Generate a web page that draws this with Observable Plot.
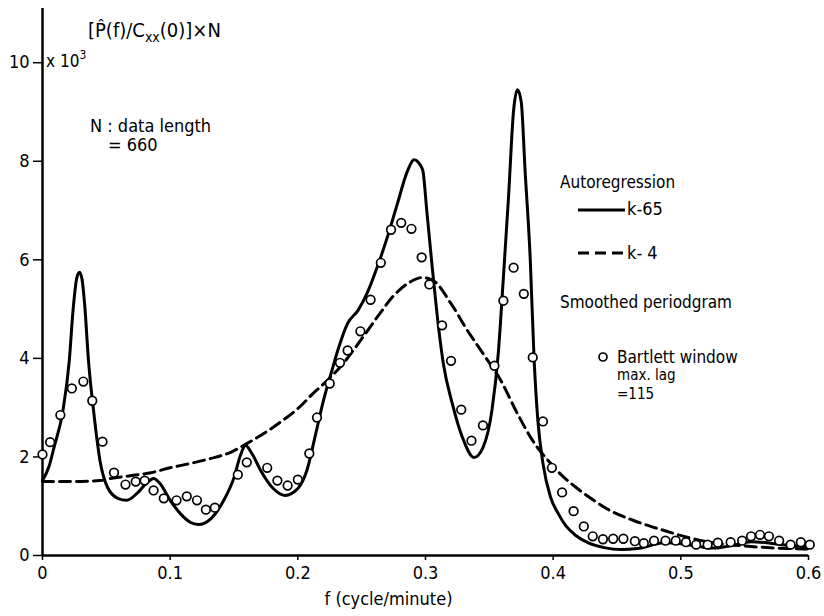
<!DOCTYPE html>
<html>
<head>
<meta charset="utf-8">
<script src="https://cdn.jsdelivr.net/npm/d3@7"></script>
<script src="https://cdn.jsdelivr.net/npm/@observablehq/plot@0.6"></script>
<style>
  html, body { margin: 0; padding: 0; background: #fff; }
  #wrap { position: relative; width: 824px; height: 616px; }
  #wrap svg { display: block; }
  #overlay { position: absolute; left: 0; top: 0; pointer-events: none; }
  svg, svg text { font-family: "DejaVu Sans", sans-serif; font-stretch: condensed; }
</style>
</head>
<body>
<div id="wrap"></div>
<script>
// Autoregression k=65 (solid)
const solidF = [0,0.005,0.009,0.016,0.021,0.024,0.027,0.029,0.031,0.033,0.036,0.040,0.045,0.051,0.059,0.066,0.074,0.082,0.087,0.092,0.100,0.108,0.116,0.122,0.132,0.142,0.150,0.155,0.159,0.164,0.171,0.180,0.190,0.200,0.207,0.214,0.220,0.226,0.232,0.239,0.247,0.254,0.262,0.270,0.278,0.286,0.291,0.296,0.298,0.301,0.305,0.309,0.314,0.321,0.329,0.338,0.345,0.352,0.357,0.361,0.365,0.369,0.372,0.375,0.378,0.382,0.385,0.388,0.392,0.398,0.404,0.410,0.418,0.428,0.440,0.453,0.466,0.476,0.486,0.500,0.515,0.525,0.540,0.555,0.570,0.585,0.600];
const solidP = [1.52,1.8,2.19,2.94,3.96,5.0,5.65,5.75,5.6,5.1,3.96,2.94,1.93,1.38,1.16,1.12,1.26,1.48,1.56,1.46,1.12,0.85,0.67,0.63,0.75,1.12,1.58,2.03,2.23,2.07,1.72,1.38,1.22,1.36,1.72,2.47,3.14,3.69,4.22,4.71,4.97,5.31,5.84,6.45,7.14,7.81,8.03,7.92,7.8,7.0,5.92,4.91,3.89,3.08,2.39,1.99,2.19,2.94,4.10,5.64,7.26,9.03,9.45,9.2,7.81,6.04,4.02,2.74,1.87,1.18,0.85,0.6,0.4,0.25,0.16,0.12,0.14,0.20,0.26,0.24,0.18,0.15,0.2,0.28,0.25,0.2,0.18];
// Autoregression k=4 (dashed)
const dashF = [0,0.02,0.045,0.053,0.069,0.085,0.100,0.116,0.132,0.147,0.160,0.173,0.186,0.200,0.212,0.223,0.236,0.249,0.262,0.275,0.288,0.297,0.306,0.320,0.333,0.345,0.359,0.372,0.384,0.398,0.407,0.418,0.430,0.442,0.463,0.484,0.505,0.525,0.547,0.568,0.588,0.600];
const dashP = [1.5,1.5,1.52,1.56,1.62,1.68,1.78,1.87,1.97,2.09,2.27,2.47,2.70,2.98,3.29,3.55,3.91,4.36,4.83,5.27,5.55,5.64,5.58,5.11,4.56,4.10,3.55,2.88,2.33,1.87,1.62,1.38,1.15,0.95,0.71,0.53,0.37,0.26,0.20,0.16,0.14,0.13];
// Smoothed periodgram, Bartlett window (circles)
const circF = [0,0.006,0.014,0.023,0.032,0.039,0.047,0.056,0.065,0.073,0.080,0.087,0.095,0.105,0.113,0.121,0.128,0.135,0.153,0.160,0.176,0.184,0.192,0.200,0.209,0.215,0.225,0.233,0.239,0.249,0.257,0.265,0.273,0.281,0.289,0.297,0.303,0.313,0.320,0.328,0.336,0.345,0.354,0.361,0.369,0.377,0.384,0.392,0.399,0.407,0.416,0.424,0.431,0.439,0.447,0.455,0.464,0.471,0.479,0.488,0.496,0.504,0.512,0.521,0.529,0.539,0.548,0.555,0.562,0.569,0.577,0.586,0.594,0.601];
const circP = [2.05,2.3,2.85,3.39,3.53,3.14,2.31,1.68,1.44,1.5,1.52,1.32,1.16,1.12,1.2,1.12,0.93,0.97,1.64,1.89,1.78,1.52,1.42,1.54,2.07,2.8,3.49,3.91,4.16,4.55,5.19,5.94,6.61,6.75,6.63,6.05,5.5,4.67,3.95,2.96,2.33,2.64,3.85,5.17,5.84,5.31,4.02,2.72,1.78,1.28,0.9,0.59,0.39,0.33,0.34,0.34,0.29,0.25,0.3,0.3,0.3,0.27,0.22,0.22,0.26,0.27,0.3,0.39,0.42,0.39,0.3,0.22,0.27,0.22];

const xTicks = [0,0.1,0.2,0.3,0.4,0.5,0.6];
const xTickLabels = ["0","0.1","0.2","0.3","0.4","0.5","0.6"];
const yTicks = [0,2,4,6,8,10];

const solid = solidF.map((f,i)=>({f, p: solidP[i]}));
const dashed = dashF.map((f,i)=>({f, p: dashP[i]}));
const circles = circF.map((f,i)=>({f, p: circP[i]}));

const font = '"DejaVu Sans", sans-serif';

const chart = Plot.plot({
  width: 824,
  height: 616,
  marginLeft: 42,
  marginRight: 16,
  marginTop: 8,
  marginBottom: 61,
  style: {fontFamily: font, fontSize: "18px", background: "#fff", color: "#000", fontStretch: "condensed"},
  x: {domain: [0, 0.6]},
  y: {domain: [0, 11.1]},
  marks: [
    Plot.axisX({ticks: xTicks, tickFormat: (d) => xTickLabels[xTicks.indexOf(d)], tickSize: 5, tickPadding: 6, label: null, strokeWidth: 1.5, fontSize: 18}),
    Plot.axisY({ticks: yTicks, tickSize: 9, tickPadding: 4, label: null, strokeWidth: 1.5, fontSize: 18}),
    Plot.ruleX([0], {stroke: "#000", strokeWidth: 2.5}),
    Plot.ruleY([0], {stroke: "#000", strokeWidth: 2.5}),
    Plot.line(dashed, {x: "f", y: "p", stroke: "#000", strokeWidth: 3, strokeDasharray: "11,6", curve: "monotone-x"}),
    Plot.line(solid, {x: "f", y: "p", stroke: "#000", strokeWidth: 3, curve: "monotone-x"}),
    Plot.dot(circles, {x: "f", y: "p", r: 4.3, stroke: "#000", strokeWidth: 1.7, fill: "#fff"}),
    Plot.text(["f (cycle/minute)"], {frameAnchor: "bottom", dx: -37, dy: 49, fontSize: 18})
  ]
});

const wrap = document.getElementById("wrap");
wrap.appendChild(chart);

// Annotations and legend overlay
const ns = "http://www.w3.org/2000/svg";
const ov = document.createElementNS(ns, "svg");
ov.setAttribute("id", "overlay");
ov.setAttribute("width", 824);
ov.setAttribute("height", 616);
ov.innerHTML = `
  <g fill="#000">
    <text x="46" y="67" font-size="17">x 10<tspan dy="-8" font-size="12">3</tspan></text>
    <text x="88" y="37" font-size="20">[P&#770;(f)/C<tspan dy="5" font-size="14">xx</tspan><tspan dy="-5">(0)]</tspan>×N</text>
    <text x="90" y="132" font-size="18">N : data  length</text>
    <text x="108" y="151" font-size="18">= 660</text>

    <text x="560" y="188" font-size="17">Autoregression</text>
    <line x1="578" x2="625" y1="210" y2="210" stroke="#000" stroke-width="3"/>
    <text x="627" y="215" font-size="18">k-65</text>
    <line x1="578" x2="625" y1="253" y2="253" stroke="#000" stroke-width="3" stroke-dasharray="11,6"/>
    <text x="627" y="259" font-size="18">k- 4</text>
    <text x="560" y="308" font-size="17">Smoothed  periodgram</text>
    <circle cx="603" cy="357" r="4" fill="#fff" stroke="#000" stroke-width="1.7"/>
    <text x="617" y="363" font-size="17">Bartlett  window</text>
    <text x="617" y="380" font-size="15">max. lag</text>
    <text x="617" y="399" font-size="15">=115</text>
  </g>`;
wrap.appendChild(ov);
</script>
</body>
</html>
